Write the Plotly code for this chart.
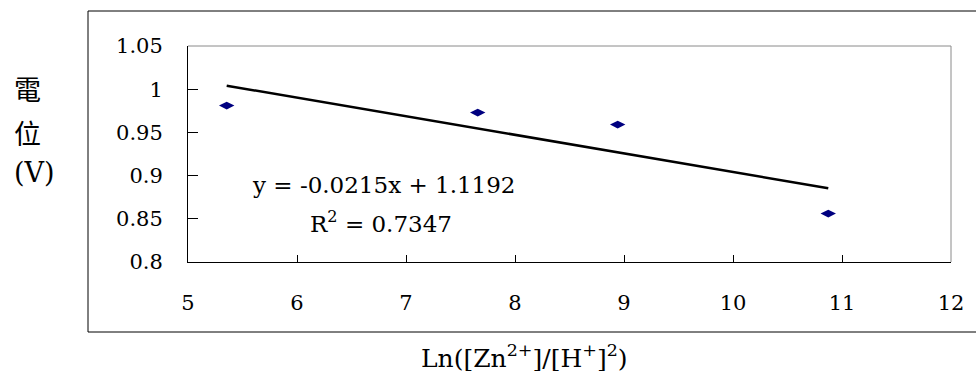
import plotly.graph_objects as go

# Measured data: ln([Zn2+]/[H+]^2) vs cell potential (V)
ln_ratio = [5.355, 7.658, 8.942, 10.874]
potential = [0.981, 0.973, 0.959, 0.856]

# Linear fit reported on the chart
slope = -0.0215
intercept = 1.1192
r_squared = 0.7347

x_ticks = [5, 6, 7, 8, 9, 10, 11, 12]
y_ticks = [0.8, 0.85, 0.9, 0.95, 1.0, 1.05]
y_tick_text = ["0.8", "0.85", "0.9", "0.95", "1", "1.05"]

W, H = 976, 371
L, R, T, B = 188, 951, 46, 262  # plot-area edges in pixels


def px(x):
    return (x - L) / (R - L)


def py(y):
    return (B - y) / (B - T)


SERIF = "DejaVu Serif"

fig = go.Figure()

fit_x = [min(ln_ratio), max(ln_ratio)]
fit_y = [slope * v + intercept for v in fit_x]
fig.add_trace(go.Scatter(
    x=fit_x, y=fit_y, mode="lines",
    line=dict(color="black", width=2.5),
    hoverinfo="skip", showlegend=False,
))

fig.add_trace(go.Scatter(
    x=ln_ratio, y=potential, mode="markers",
    marker=dict(symbol="diamond-wide", size=11, color="#000080"),
    showlegend=False,
))

axis_font = dict(family=SERIF, size=21, color="black")

fig.update_xaxes(
    range=[5, 12], tickvals=x_ticks, ticktext=[str(v) for v in x_ticks],
    ticks="inside", ticklen=7, tickwidth=1, tickcolor="black",
    showline=True, linecolor="black", linewidth=1, mirror=False,
    showgrid=False, zeroline=False, tickfont=axis_font,
    ticklabelstandoff=22,
)
fig.update_yaxes(
    range=[0.8, 1.05], tickvals=y_ticks, ticktext=y_tick_text,
    ticks="inside", ticklen=10, tickwidth=1, tickcolor="black",
    showline=True, linecolor="black", linewidth=1, mirror=False,
    showgrid=False, zeroline=False, tickfont=axis_font,
    ticklabelstandoff=20,
)

shapes = [
    # gray top and right borders of the plot area
    dict(type="line", xref="paper", yref="paper", x0=0, x1=1, y0=1, y1=1,
         line=dict(color="#8a8a8a", width=1)),
    dict(type="line", xref="paper", yref="paper", x0=1, x1=1, y0=0, y1=1,
         line=dict(color="#8a8a8a", width=1)),
    # outer chart frame
    dict(type="rect", xref="paper", yref="paper",
         x0=px(88), x1=px(985), y0=py(332), y1=py(11),
         line=dict(color="black", width=1), fillcolor="rgba(0,0,0,0)",
         layer="below"),
]

annotations = [
    dict(text=f"y = {slope}x + {intercept}", x=px(383), y=py(185),
         xref="paper", yref="paper", showarrow=False,
         xanchor="center", yanchor="middle",
         font=dict(family=SERIF, size=23, color="black")),
    dict(text=f"R<sup>2</sup> = {r_squared}", x=px(381), y=py(222),
         xref="paper", yref="paper", showarrow=False,
         xanchor="center", yanchor="middle",
         font=dict(family=SERIF, size=23, color="black")),
    dict(text="Ln([Zn<sup>2+</sup>]/[H<sup>+</sup>]<sup>2</sup>)",
         x=px(524), y=py(356), xref="paper", yref="paper", showarrow=False,
         xanchor="center", yanchor="middle",
         font=dict(family=SERIF, size=25, color="black")),
]

# vertical stacked y-axis title
for txt, yc, fam in [("電", 88, "Noto Sans CJK TC"),
                     ("位", 132, "Noto Sans CJK TC"),
                     ("(V)", 172, SERIF)]:
    annotations.append(dict(
        text=txt, x=px(12), y=py(yc), xref="paper", yref="paper",
        showarrow=False, xanchor="left", yanchor="middle",
        font=dict(family=fam, size=27, color="black"),
    ))

fig.update_layout(
    width=W, height=H,
    margin=dict(l=L, r=W - R, t=T, b=H - B),
    paper_bgcolor="white", plot_bgcolor="white",
    shapes=shapes, annotations=annotations,
    showlegend=False,
)

fig.write_html("out.html")
